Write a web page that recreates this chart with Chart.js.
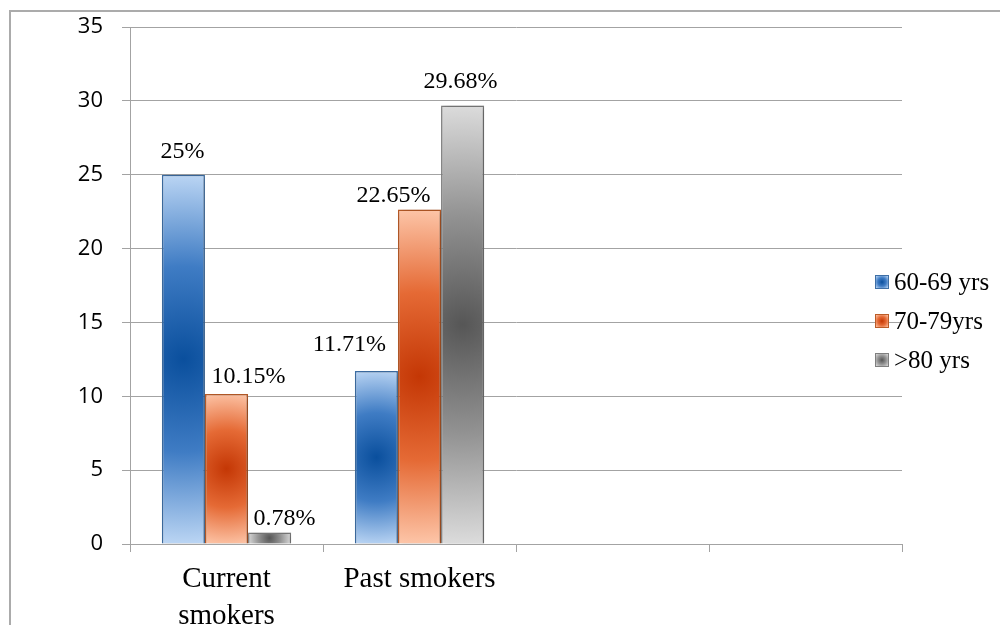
<!DOCTYPE html>
<html>
<head>
<meta charset="utf-8">
<script src="https://cdn.jsdelivr.net/npm/chart.js@4/dist/chart.umd.min.js"></script>
<style>
  html, body { margin: 0; padding: 0; background: #fff; }
  body { position: relative; width: 1000px; height: 625px; overflow: hidden; }
  #frame { position: absolute; left: 9px; top: 10px; width: 1100px; height: 700px;
           border-left: 2px solid #ababab; border-top: 2px solid #ababab; }
  #c { position: absolute; left: 0; top: 0; }
</style>
</head>
<body>
<div id="frame"></div>
<canvas id="c" width="1000" height="625"></canvas>
<script>
// Smoking status by age group (percent)
const categories = [['Current', 'smokers'], 'Past smokers', '', ''];
const seriesNames = ['60-69 yrs', '70-79yrs', '>80 yrs'];
const age60to69 = [25, 11.71, null, null];
const age70to79 = [10.15, 22.65, null, null];
const age80plus = [0.78, 29.68, null, null];
const yMin = 0, yMax = 35, yStep = 5;

// centre-out shading for each series
const palettes = [
  { dark: '#0a4f9d', mid: '#3f7cc4', light: '#bcd6f4', border: '#3e6fa6' },
  { dark: '#c43705', mid: '#e56a35', light: '#fdc6a9', border: '#bb5c27' },
  { dark: '#565656', mid: '#939393', light: '#dcdcdc', border: '#7f7f7f' }
];

// per-label offsets of the value text: [dx from bar centre, lift above bar top]
const labelShiftX = [[-1, -27], [22, -26], [15, -2]];
const labelLift = [[17, 20], [11, 7.5], [7, 17.5]];

const serif = '"Liberation Serif", "Times New Roman", serif';
const sans = '"Open Sans", "Liberation Sans", sans-serif';
const gridGray = '#a3a3a3';

function radialFill(ctx, left, top, w, h, pal) {
  const cx = left + w / 2, cy = top + h / 2;
  const r = Math.max(1, Math.hypot(w / 2, h / 2));
  const g = ctx.createRadialGradient(cx, cy, 0, cx, cy, r);
  g.addColorStop(0, pal.dark);
  g.addColorStop(0.5, pal.mid);
  g.addColorStop(1, pal.light);
  return g;
}

const barShading = {
  id: 'barShading',
  beforeDatasetsDraw(chart) {
    chart.data.datasets.forEach((ds, i) => {
      chart.getDatasetMeta(i).data.forEach(el => {
        const p = el.getProps(['x', 'y', 'base', 'width'], true);
        if (![p.x, p.y, p.base, p.width].every(Number.isFinite) || !el.options) return;
        el.options.backgroundColor = radialFill(chart.ctx, p.x - p.width / 2,
          Math.min(p.y, p.base), p.width, Math.abs(p.base - p.y), palettes[i]);
      });
    });
  },
  beforeDatasetDraw(chart) {
    const c = chart.ctx;
    c.save();
    c.shadowColor = 'rgba(0,0,0,0.3)';
    c.shadowBlur = 6;
    c.shadowOffsetX = 2;
    c.shadowOffsetY = 1;
  },
  afterDatasetDraw(chart) { chart.ctx.restore(); }
};

const valueLabels = {
  id: 'valueLabels',
  afterDatasetsDraw(chart) {
    const c = chart.ctx;
    c.save();
    c.font = '24px ' + serif;
    c.fillStyle = '#000';
    c.textAlign = 'center';
    c.textBaseline = 'alphabetic';
    chart.data.datasets.forEach((ds, i) => {
      chart.getDatasetMeta(i).data.forEach((el, j) => {
        const v = ds.data[j];
        if (v === null || v === undefined) return;
        const p = el.getProps(['x', 'y'], true);
        c.fillText(String(v) + '%', p.x + labelShiftX[i][j], p.y - labelLift[i][j]);
      });
    });
    c.restore();
  }
};

const sideLegend = {
  id: 'sideLegend',
  afterDraw(chart) {
    const c = chart.ctx;
    const boxX = 875, box = 14, textX = 894;
    const rowY = [282, 321, 360];
    c.save();
    c.font = '25px ' + serif;
    c.textAlign = 'left';
    c.textBaseline = 'alphabetic';
    chart.data.datasets.forEach((ds, i) => {
      const top = rowY[i] - box / 2;
      c.fillStyle = palettes[i].border;
      c.fillRect(boxX, top, box, box);
      c.fillStyle = radialFill(c, boxX + 1, top + 1, box - 2, box - 2, palettes[i]);
      c.fillRect(boxX + 1, top + 1, box - 2, box - 2);
      c.fillStyle = '#000';
      c.fillText(ds.label, textX, rowY[i] + 8);
    });
    c.restore();
  }
};

function series(i, values) {
  return {
    label: seriesNames[i],
    data: values,
    backgroundColor: ctx => palettes[ctx.datasetIndex].mid,
    borderColor: palettes[i].border,
    borderWidth: 1.5,
    categoryPercentage: 0.67,
    barPercentage: 1
  };
}

new Chart(document.getElementById('c'), {
  type: 'bar',
  data: {
    labels: categories,
    datasets: [series(0, age60to69), series(1, age70to79), series(2, age80plus)]
  },
  options: {
    responsive: false,
    devicePixelRatio: 1,
    animation: false,
    layout: { padding: { top: 27, right: 98, bottom: 0, left: 0 } },
    plugins: { legend: { display: false }, tooltip: { enabled: false } },
    scales: {
      x: {
        grid: { display: true, drawOnChartArea: false, drawTicks: true, tickLength: 8,
                color: gridGray, offset: true },
        border: { display: true, color: gridGray },
        ticks: { color: '#000', font: { family: serif, size: 29, lineHeight: '37px' },
                 padding: 9, maxRotation: 0, autoSkip: false },
        afterFit(s) { s.height = 81; }
      },
      y: {
        min: yMin, max: yMax,
        ticks: { stepSize: yStep, color: '#000', font: { family: sans, size: 22 }, padding: 19 },
        grid: { color: gridGray, tickLength: 8 },
        border: { display: true, color: gridGray },
        afterFit(s) { s.width = 130; s.paddingTop = 0; s.paddingBottom = 0; }
      }
    }
  },
  plugins: [barShading, valueLabels, sideLegend]
});
</script>
</body>
</html>
